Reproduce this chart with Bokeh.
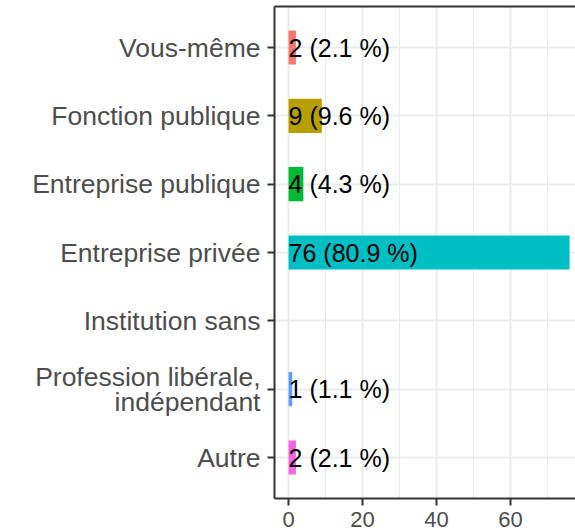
from bokeh.plotting import figure
from bokeh.models import Range1d, FixedTicker, LinearAxis, ColumnDataSource
from bokeh.embed import file_html
from bokeh.resources import INLINE
from bokeh.core.properties import value

categories = ["Vous-même", "Fonction publique", "Entreprise publique", "Entreprise privée",
              "Institution sans", "Profession libérale,\nindépendant", "Autre"]
counts = [2, 9, 4, 76, 0, 1, 2]
percents = [2.1, 9.6, 4.3, 80.9, 0.0, 1.1, 2.1]
colors = ["#F8766D", "#B79F00", "#00BA38", "#00BFC4", "#00A9FF", "#619CFF", "#F564E3"]
x_ticks = [0, 20, 40, 60]
x_minor_ticks = [10, 30, 50, 70]

n = len(categories)
ypos = [n - i for i in range(n)]          # first category at the top

rows = [i for i, c in enumerate(counts) if c > 0]
src = ColumnDataSource(dict(
    y=[ypos[i] for i in rows],
    count=[counts[i] for i in rows],
    color=[colors[i] for i in rows],
    label=[f"{counts[i]} ({percents[i]} %)" for i in rows],
))

FONT = "Liberation Sans"

p = figure(width=575, height=530, output_backend="svg", toolbar_location=None,
           y_range=Range1d(0.4, n + 0.6),
           x_range=Range1d(-3.8, 77.6),
           min_border_left=274, min_border_right=0, min_border_top=6, min_border_bottom=32)
p.outline_line_color = None
p.background_fill_color = "white"
p.border_fill_color = "white"

p.hbar(y="y", left=0, right="count", height=0.5, fill_color="color", line_color=None, source=src)
p.text(x=0, y="y", text="label", text_align="left", text_baseline="middle",
       text_font=value(FONT), text_font_size="25px", text_color="black", source=src)

xticker = FixedTicker(ticks=x_ticks, minor_ticks=x_minor_ticks)
p.xaxis.ticker = xticker
p.xgrid.ticker = xticker
yticker = FixedTicker(ticks=ypos, minor_ticks=[])
p.yaxis.ticker = yticker
p.ygrid.ticker = yticker
p.yaxis.major_label_overrides = {ypos[i]: categories[i] for i in range(n)}

p.xgrid.grid_line_color = "#EBEBEB"
p.xgrid.grid_line_width = 2
p.xgrid.minor_grid_line_color = "#EBEBEB"
p.xgrid.minor_grid_line_width = 1
p.ygrid.grid_line_color = "#EBEBEB"
p.ygrid.grid_line_width = 2

for ax in (p.xaxis[0], p.yaxis[0]):
    ax.axis_line_color = "#333333"
    ax.axis_line_width = 2
    ax.major_tick_line_color = "#333333"
    ax.major_tick_line_width = 2
    ax.major_tick_out = 7
    ax.major_tick_in = 0
    ax.minor_tick_line_color = None
    ax.minor_tick_out = 0
    ax.major_label_text_color = "#4D4D4D"
    ax.major_label_text_font = FONT

p.xaxis.major_label_text_font_size = "22px"
p.xaxis.major_label_standoff = 6
p.yaxis.major_label_text_font_size = "26.5px"
p.yaxis.major_label_standoff = 7
p.yaxis.major_label_text_line_height = 0.83

top = LinearAxis(ticker=FixedTicker(ticks=[]), major_label_text_font_size="0px",
                 axis_line_color="#333333", axis_line_width=2,
                 major_tick_line_color=None, minor_tick_line_color=None,
                 major_tick_out=0, minor_tick_out=0, major_label_standoff=0)
p.add_layout(top, "above")

open("out.html", "w").write(file_html(p, INLINE))
